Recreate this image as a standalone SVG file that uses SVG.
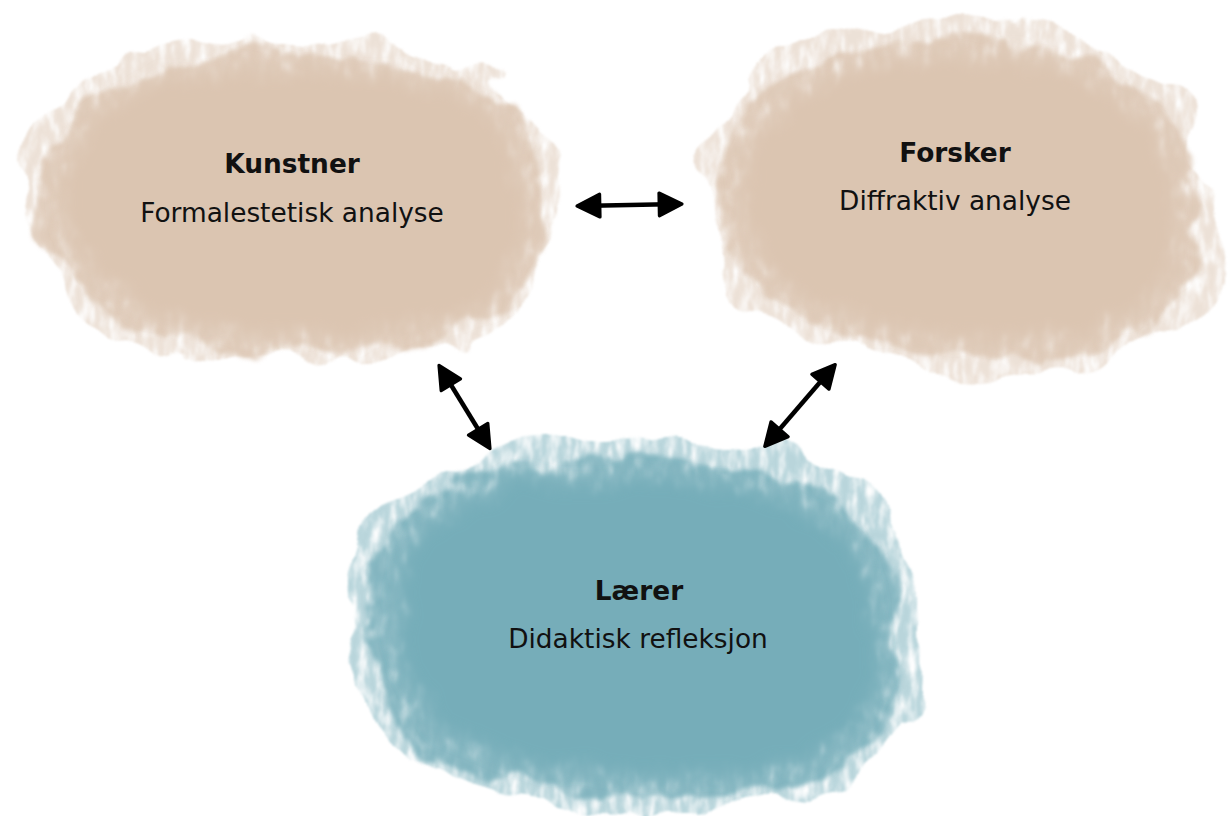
<svg xmlns="http://www.w3.org/2000/svg" width="1231" height="816" viewBox="0 0 1231 816">
<style>
.t{font-family:"DejaVu Sans",Verdana,sans-serif;font-size:26.4px;fill:#111;text-anchor:middle}
.b{font-weight:bold}
.beige{fill:#dbc5b1}
.teal{fill:#76adb9}
.ar{stroke:#000;stroke-width:4.5;fill:none;marker-start:url(#ah);marker-end:url(#ah)}
</style>
<defs>
<marker id="ah" viewBox="0 0 10 10" refX="8.5" refY="5" markerWidth="6" markerHeight="6" orient="auto-start-reverse" markerUnits="strokeWidth">
<path d="M0.8,0.8 L9.2,5 L0.8,9.2 Z" fill="#000" stroke="#000" stroke-width="1.2" stroke-linejoin="round"/>
</marker>
<filter id="wc1" x="-25%" y="-25%" width="150%" height="150%">
<feTurbulence type="fractalNoise" baseFrequency="0.012" numOctaves="3" seed="4" result="n1"/>
<feDisplacementMap in="SourceGraphic" in2="n1" scale="55" xChannelSelector="R" yChannelSelector="G" result="d"/>
<feTurbulence type="fractalNoise" baseFrequency="0.12 0.04" numOctaves="4" seed="9" result="n2"/>
<feColorMatrix in="n2" type="matrix" values="0 0 0 0 0  0 0 0 0 0  0 0 0 0 0  2.2 0 0 0 -0.35" result="m"/>
<feComposite in="d" in2="m" operator="in" result="tx"/>
<feGaussianBlur in="tx" stdDeviation="1"/>
</filter>
<filter id="wc2" x="-25%" y="-25%" width="150%" height="150%">
<feTurbulence type="fractalNoise" baseFrequency="0.018" numOctaves="4" seed="11" result="n1"/>
<feDisplacementMap in="SourceGraphic" in2="n1" scale="40" xChannelSelector="R" yChannelSelector="G" result="d"/>
<feTurbulence type="fractalNoise" baseFrequency="0.09 0.05" numOctaves="3" seed="5" result="n2"/>
<feColorMatrix in="n2" type="matrix" values="0 0 0 0 0  0 0 0 0 0  0 0 0 0 0  2.5 0 0 0 -0.2" result="m"/>
<feComposite in="d" in2="m" operator="in" result="tx"/>
<feGaussianBlur in="tx" stdDeviation="2"/>
</filter>
<filter id="wc3" x="-25%" y="-25%" width="150%" height="150%">
<feTurbulence type="fractalNoise" baseFrequency="0.03" numOctaves="4" seed="21" result="n1"/>
<feDisplacementMap in="SourceGraphic" in2="n1" scale="30" xChannelSelector="R" yChannelSelector="G" result="d"/>
<feGaussianBlur in="d" stdDeviation="8"/>
</filter>
</defs>
<rect width="1231" height="816" fill="#fff"/>

<g id="node-kunstner">
<path class="beige" filter="url(#wc1)" opacity="0.5" d="M18,190 C13,110 100,52 210,42 C320,32 470,48 532,108 C572,160 562,262 522,312 C470,362 330,366 220,357 C110,347 23,280 18,190 Z"/>
<path class="beige" filter="url(#wc2)" opacity="0.8" d="M35,195 C35,118 115,65 218,56 C330,48 472,64 522,120 C552,168 548,258 510,305 C462,352 330,356 224,348 C122,339 38,272 35,195 Z"/>
<path class="beige" filter="url(#wc3)" d="M62,195 C62,125 135,80 232,73 C338,66 460,82 505,130 C532,172 528,252 495,292 C452,334 330,338 232,330 C138,322 65,264 62,195 Z"/>
<text class="t b" x="292" y="173">Kunstner</text>
<text class="t" x="292" y="222">Formalestetisk analyse</text>
</g>

<g id="node-forsker">
<path class="beige" filter="url(#wc1)" opacity="0.5" d="M703,185 C698,100 788,32 900,22 C1010,12 1102,38 1152,73 C1202,110 1222,200 1212,262 C1197,332 1120,372 1000,370 C880,368 778,342 733,292 C710,262 704,220 703,185 Z"/>
<path class="beige" filter="url(#wc2)" opacity="0.8" d="M718,190 C718,108 798,50 905,40 C1012,32 1098,56 1145,92 C1190,128 1206,205 1196,257 C1180,325 1112,358 1000,356 C888,354 790,330 750,284 C729,257 719,222 718,190 Z"/>
<path class="beige" filter="url(#wc3)" d="M745,190 C745,115 815,68 910,60 C1012,52 1092,74 1132,108 C1172,145 1184,208 1174,254 C1158,314 1100,340 1000,338 C895,336 808,315 775,276 C754,252 745,222 745,190 Z"/>
<text class="t b" x="955" y="162">Forsker</text>
<text class="t" x="955" y="210">Diffraktiv analyse</text>
</g>

<g id="node-laerer">
<path class="teal" filter="url(#wc1)" opacity="0.5" d="M352,600 C347,518 418,462 520,447 C620,435 762,437 843,478 C908,518 928,610 918,692 C908,762 840,808 730,812 C600,817 468,802 408,762 C362,726 355,660 352,600 Z"/>
<path class="teal" filter="url(#wc2)" opacity="0.8" d="M368,605 C366,528 435,474 528,462 C630,451 762,456 835,496 C890,532 906,615 898,688 C888,750 832,792 730,796 C608,801 475,786 424,750 C384,719 370,662 368,605 Z"/>
<path class="teal" filter="url(#wc3)" d="M398,610 C398,535 458,490 545,481 C640,472 756,478 822,515 C868,547 882,622 874,684 C864,738 820,770 728,775 C616,780 500,767 452,735 C416,710 398,662 398,610 Z"/>
<text class="t b" x="639" y="600">Lærer</text>
<text class="t" x="638" y="648">Didaktisk refleksjon</text>
</g>

<g id="connectors">
<line class="ar" x1="579" y1="206" x2="680" y2="204"/>
<line class="ar" x1="440" y1="367" x2="489" y2="447"/>
<line class="ar" x1="834" y1="366" x2="766" y2="445"/>
</g>
</svg>
